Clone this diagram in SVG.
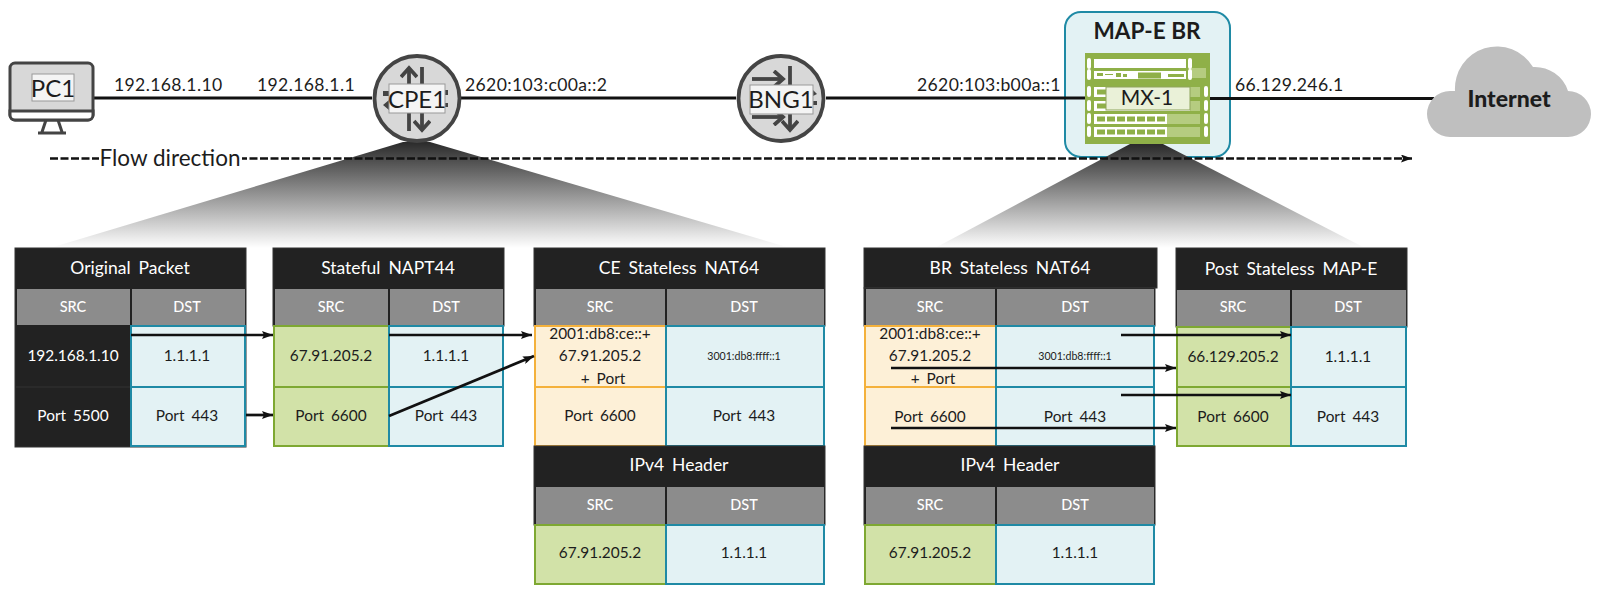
<svg xmlns="http://www.w3.org/2000/svg" width="1600" height="594" viewBox="0 0 1600 594">
<style>
text{font-family:Lato,"Noto Sans",sans-serif;text-anchor:middle;fill:#1c1c1c}
.lbl{font-size:17.6px;letter-spacing:.35px;text-anchor:start}
.hd{fill:#222;stroke:#333;stroke-width:1}
.hdt{fill:#fff;font-size:17.5px;word-spacing:3.5px}
.sub{fill:#8c8c8c}
.subt{fill:#fff;font-size:14.5px;font-weight:500}
.b{fill:#e3f2f4;stroke:#1f8aa5;stroke-width:2}
.g{fill:#d2e2a8;stroke:#7ea832;stroke-width:2}
.o{fill:#fdf0d7;stroke:#f4b13b;stroke-width:2}
.c{font-size:15.4px;word-spacing:3px}
.w{fill:#fff;font-size:15.4px;word-spacing:3px}
.t{font-size:10.6px}
.ln{stroke:#111;stroke-width:2.800;fill:none}
.ar{stroke:#111;stroke-width:2.700;fill:none;marker-end:url(#m)}
.box{fill:#f4f4f4;stroke:#999;stroke-width:1}
.ic{stroke:#444;stroke-width:3.800;fill:none;marker-end:url(#n)}
.r{fill:#d8d8d8;stroke:#444;stroke-width:3.800}
.wr{fill:#fff}
.dk{fill:#8fb048}
.pt{fill:#b5cc80}
.nt{font-size:24px}
.mk{fill:#444}
</style>
<defs>
<marker id="m" markerUnits="userSpaceOnUse" markerWidth="12" markerHeight="8" refX="11" refY="4" orient="auto"><path d="M0 0L11 4L0 8L2 4Z" fill="#111"/></marker>
<marker id="n" markerUnits="userSpaceOnUse" markerWidth="16" markerHeight="18" refX="11" refY="9" orient="auto"><path d="M2 1L11 9L2 17" fill="none" stroke="#444" stroke-width="3.800"/></marker>
<linearGradient id="f" x1="0" y1="0" x2="0" y2="1"><stop offset="0" stop-color="#2a2a2a"/><stop offset="1" stop-color="#fff"/></linearGradient>
</defs>
<polygon points="403,142 430,142 790,248 50,248" fill="url(#f)"/>
<rect x="1065" y="12" width="165" height="145" rx="16" fill="#e3f2f4" stroke="#1f8aa5" stroke-width="2"/>
<polygon points="1130,144 1163,144 1365,248 935,248" fill="url(#f)"/>
<g id="connectors">
<line class="ln" x1="93" y1="98" x2="372" y2="98"/>
<line class="ln" x1="461" y1="98" x2="736" y2="98"/>
<line class="ln" x1="826" y1="98" x2="1085" y2="98"/>
<line class="ln" x1="1210" y1="98.500" x2="1434" y2="98.500"/>
<line x1="50" y1="158.500" x2="1412" y2="158.500" stroke="#111" stroke-width="2.500" stroke-dasharray="8 2.500" marker-end="url(#m)"/>
</g>
<g id="flow"><rect x="99" y="148" width="143" height="22" fill="#fff"/><text x="170" y="166" font-size="22.500">Flow direction</text></g>
<text class="lbl" x="114" y="91">192.168.1.10</text>
<text class="lbl" x="257" y="91">192.168.1.1</text>
<text class="lbl" x="465" y="91">2620:103:c00a::2</text>
<text class="lbl" x="917" y="91">2620:103:b00a::1</text>
<text class="lbl" x="1235" y="91">66.129.246.1</text>
<g id="PC1">
<rect x="10" y="63" width="83" height="57" rx="5" fill="#d8d8d8" stroke="#444" stroke-width="3"/>
<path d="M10 111H93V115a5 5 0 0 1-5 5H15a5 5 0 0 1-5-5Z" fill="#fff" stroke="#444" stroke-width="3"/>
<path d="M46 120L42 132M58 120L62 132M38 133H66" stroke="#444" stroke-width="3" fill="none"/>
<rect class="box" x="32" y="74" width="42" height="27"/>
<text class="nt" x="53" y="97">PC1</text>
</g>
<g id="CPE1">
<circle class="r" cx="417" cy="98.500" r="42.500"/>
<path class="ic" d="M409 131V68"/><path class="ic" d="M422 67V130"/>
<path class="mk" d="M383 91h6v5h-6ZM389 100v10l-6-5ZM445 90h3v5h-3ZM445 103h3v4h-3Z"/>
<rect class="box" x="389" y="84" width="56" height="29"/>
<text class="nt" x="417" y="107.500">CPE1</text>
</g>
<g id="BNG1">
<circle class="r" cx="781" cy="98.500" r="42.500"/>
<path class="ic" d="M752 79H783"/><path class="ic" d="M752 117H783"/>
<path class="ic" d="M790 66V130"/>
<path class="mk" d="M813 90l4 4-4 2ZM813 101h4v4h-4Z"/>
<rect class="box" x="750" y="85" width="63" height="29"/>
<text class="nt" x="781" y="107.500">BNG1</text>
</g>
<g id="MAP-E-BR">
<text x="1147" y="39" font-size="22.600" font-weight="700">MAP-E BR</text>
<rect class="dk" x="1085" y="53" width="125" height="91"/>
<rect class="wr" x="1094" y="59" width="92" height="9"/>
<rect class="wr" x="1094" y="71" width="92" height="8"/>
<path d="M1097 73h6v3h-6ZM1105 74h8v1h-8ZM1116 73h5v4h-5ZM1123 74h4v3h-4Z" fill="#8fb048"/>
<rect x="1138" y="72.500" width="23" height="6" fill="#8fb048"/><rect x="1168" y="74" width="16" height="3" fill="#8fb048"/>
<rect class="wr" x="1094" y="87" width="96" height="10"/><rect class="wr" x="1094" y="101" width="96" height="10"/>
<rect class="wr" x="1094" y="114" width="73" height="10"/><rect class="wr" x="1094" y="127" width="73" height="10"/>
<rect class="pt" x="1167" y="114" width="33" height="10"/><rect class="pt" x="1167" y="127" width="33" height="10"/>
<rect class="pt" x="1190" y="87" width="10" height="10"/><rect class="pt" x="1190" y="101" width="10" height="10"/>
<rect class="pt" x="1189" y="68" width="17" height="10"/>
<path d="M1097 119H1165M1097 132H1165" stroke="#8fb048" stroke-width="5" stroke-dasharray="8 2"/>
<path d="M1097 92H1106M1097 106H1106" stroke="#8fb048" stroke-width="5"/>
<path d="M1089 60v7M1089 71v7M1089 88v7M1089 102v7M1089 115v7M1089 128v7M1190 60v7M1190 71v7M1206 88v7M1206 102v7M1206 115v7M1206 128v7" stroke="#fff" stroke-width="4" stroke-linecap="round"/>
<rect x="1106" y="87" width="84" height="23" fill="#eaf1d8" stroke="#8fa45c"/>
<text x="1147" y="105" font-size="21">MX-1</text>
</g>
<g id="Internet">
<path d="M1450 137A23 23 0 0 1 1450 91H1455A42 42 0 0 1 1533 67A35 35 0 0 1 1568 91A23 23 0 0 1 1568 137Z" fill="#bfbfbf"/>
<text x="1509" y="107" font-size="23" font-weight="900">Internet</text>
</g>
<g id="table-original">
<rect class="hd" x="15" y="248" width="231" height="199"/>
<text class="hdt" x="130" y="274">Original Packet</text>
<rect class="sub" x="17" y="289" width="113" height="36"/><rect class="sub" x="132" y="289" width="113" height="36"/>
<text class="subt" x="73" y="312">SRC</text><text class="subt" x="187" y="312">DST</text>
<line x1="16" y1="387" x2="130" y2="387" stroke="#333"/>
<rect class="b" x="131" y="326" width="114" height="61"/><rect class="b" x="131" y="387" width="114" height="59"/>
<text class="w" x="73" y="361">192.168.1.10</text><text class="c" x="187" y="361">1.1.1.1</text>
<text class="w" x="73" y="421">Port 5500</text><text class="c" x="187" y="421">Port 443</text>
</g>
<g id="table-napt44">
<rect class="hd" x="273" y="248" width="231" height="78"/>
<text class="hdt" x="388" y="274">Stateful NAPT44</text>
<rect class="sub" x="275" y="289" width="113" height="36"/><rect class="sub" x="390" y="289" width="113" height="36"/>
<text class="subt" x="331" y="312">SRC</text><text class="subt" x="446" y="312">DST</text>
<rect class="g" x="274" y="326" width="115" height="61"/><rect class="g" x="274" y="387" width="115" height="59"/>
<rect class="b" x="389" y="326" width="114" height="61"/><rect class="b" x="389" y="387" width="114" height="59"/>
<text class="c" x="331" y="361">67.91.205.2</text><text class="c" x="446" y="361">1.1.1.1</text>
<text class="c" x="331" y="421">Port 6600</text><text class="c" x="446" y="421">Port 443</text>
</g>
<g id="table-ce">
<rect class="hd" x="534" y="248" width="291" height="78"/>
<text class="hdt" x="679" y="274">CE Stateless NAT64</text>
<rect class="sub" x="536" y="289" width="129" height="36"/><rect class="sub" x="667" y="289" width="157" height="36"/>
<text class="subt" x="600" y="312">SRC</text><text class="subt" x="744" y="312">DST</text>
<rect class="o" x="535" y="326" width="131" height="61"/><rect class="o" x="535" y="387" width="131" height="59"/>
<rect class="b" x="666" y="326" width="158" height="61"/><rect class="b" x="666" y="387" width="158" height="59"/>
<text class="c" x="600" y="339">2001:db8:ce::+</text><text class="c" x="600" y="361">67.91.205.2</text><text class="c" x="603" y="384">+ Port</text>
<text class="t" x="744" y="360">3001:db8:ffff::1</text>
<text class="c" x="600" y="421">Port 6600</text><text class="c" x="744" y="421">Port 443</text>
<rect class="hd" x="534" y="446" width="291" height="79"/>
<text class="hdt" x="679" y="471">IPv4 Header</text>
<rect class="sub" x="536" y="487" width="129" height="37"/><rect class="sub" x="667" y="487" width="157" height="37"/>
<text class="subt" x="600" y="510">SRC</text><text class="subt" x="744" y="510">DST</text>
<rect class="g" x="535" y="525" width="131" height="59"/><rect class="b" x="666" y="525" width="158" height="59"/>
<text class="c" x="600" y="558">67.91.205.2</text><text class="c" x="744" y="558">1.1.1.1</text>
</g>
<g id="table-br">
<rect class="hd" x="864" y="248" width="293" height="40"/>
<rect class="hd" x="864" y="288" width="291" height="38"/>
<text class="hdt" x="1010" y="274">BR Stateless NAT64</text>
<rect class="sub" x="866" y="289" width="129" height="36"/><rect class="sub" x="997" y="289" width="157" height="36"/>
<text class="subt" x="930" y="312">SRC</text><text class="subt" x="1075" y="312">DST</text>
<rect class="o" x="865" y="326" width="131" height="61"/><rect class="o" x="865" y="387" width="131" height="59"/>
<rect class="b" x="996" y="326" width="158" height="61"/><rect class="b" x="996" y="387" width="158" height="59"/>
<text class="c" x="930" y="339">2001:db8:ce::+</text><text class="c" x="930" y="361">67.91.205.2</text><text class="c" x="933" y="384">+ Port</text>
<text class="t" x="1075" y="360">3001:db8:ffff::1</text>
<text class="c" x="930" y="422">Port 6600</text><text class="c" x="1075" y="422">Port 443</text>
<rect class="hd" x="864" y="446" width="291" height="79"/>
<text class="hdt" x="1010" y="471">IPv4 Header</text>
<rect class="sub" x="866" y="487" width="129" height="37"/><rect class="sub" x="997" y="487" width="157" height="37"/>
<text class="subt" x="930" y="510">SRC</text><text class="subt" x="1075" y="510">DST</text>
<rect class="g" x="865" y="525" width="131" height="59"/><rect class="b" x="996" y="525" width="158" height="59"/>
<text class="c" x="930" y="558">67.91.205.2</text><text class="c" x="1075" y="558">1.1.1.1</text>
</g>
<g id="table-post">
<rect class="hd" x="1176" y="248" width="231" height="79"/>
<text class="hdt" x="1291" y="275">Post Stateless MAP-E</text>
<rect class="sub" x="1177" y="290" width="113" height="36"/><rect class="sub" x="1292" y="290" width="114" height="36"/>
<text class="subt" x="1233" y="312">SRC</text><text class="subt" x="1348" y="312">DST</text>
<rect class="g" x="1177" y="327" width="114" height="60"/><rect class="g" x="1177" y="387" width="114" height="59"/>
<rect class="b" x="1291" y="327" width="115" height="60"/><rect class="b" x="1291" y="387" width="115" height="59"/>
<text class="c" x="1233" y="362">66.129.205.2</text><text class="c" x="1348" y="362">1.1.1.1</text>
<text class="c" x="1233" y="422">Port 6600</text><text class="c" x="1348" y="422">Port 443</text>
</g>
<g id="flow-arrows">
<line class="ar" x1="131" y1="335" x2="273" y2="335"/>
<line class="ar" x1="246" y1="415" x2="273" y2="415"/>
<line class="ar" x1="389" y1="335" x2="532" y2="335"/>
<line class="ar" x1="389" y1="416" x2="534" y2="356"/>
<line class="ar" x1="1121" y1="335" x2="1291" y2="335"/>
<line class="ar" x1="891" y1="368" x2="1176" y2="368"/>
<line class="ar" x1="1121" y1="395" x2="1291" y2="395"/>
<line class="ar" x1="891" y1="428" x2="1176" y2="428"/>
</g>
</svg>
